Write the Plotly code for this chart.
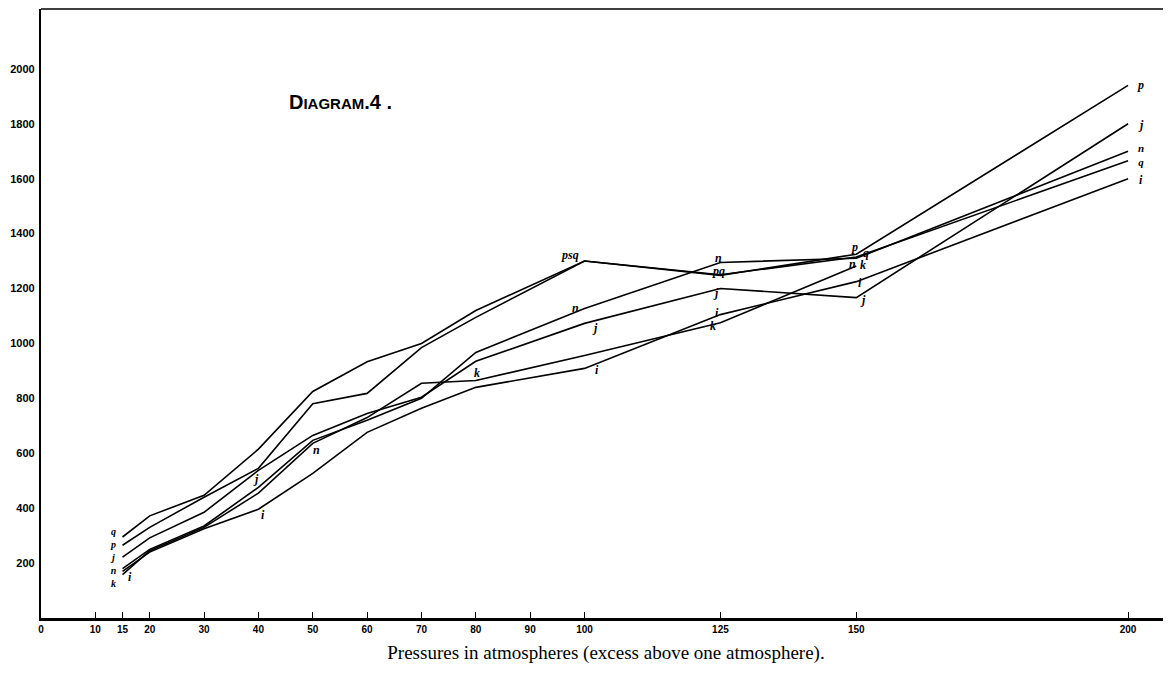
import plotly.graph_objects as go

# Pressures (atmospheres, excess above one atmosphere)
pressures = [15, 20, 30, 40, 50, 60, 70, 80, 100, 125, 150, 200]

series_p = [265, 330, 440, 545, 780, 818, 985, 1095, 1300, 1248, 1325, 1940]
series_q = [295, 372, 447, 615, 825, 933, 1000, 1120, 1300, 1250, 1315, 1665]
series_j = [222, 292, 385, 538, 665, 745, 804, 935, 1073, 1200, 1167, 1800]
series_n = [180, 250, 335, 476, 647, 720, 800, 967, 1127, 1295, 1310, 1700]
series_k = [158, 245, 330, 455, 636, 730, 855, 865, 956, 1075, 1282, None]
series_i = [170, 240, 325, 396, 527, 676, 764, 840, 909, 1105, 1225, 1600]

series = {"p": series_p, "q": series_q, "j": series_j,
          "n": series_n, "k": series_k, "i": series_i}

x_ticks = [0, 10, 15, 20, 30, 40, 50, 60, 70, 80, 90, 100, 125, 150, 200]
y_ticks = [200, 400, 600, 800, 1000, 1200, 1400, 1600, 1800, 2000]

# curve letters placed beside the lines: (text, pressure, value, size)
label_text = ["q<br>p<br>j<br>n<br>k", "i",
              "j", "i", "n", "k",
              "psq", "n", "j", "i",
              "n", "pq", "j", "i", "k",
              "p", "q", "n", "k", "i", "j",
              "p", "j", "n<br>q", "i"]
label_x = [13.4, 16.3,
           39.5, 40.8, 50.7, 80.2,
           97.3, 98.3, 102.0, 102.3,
           124.6, 124.6, 124.2, 124.4, 123.6,
           149.7, 151.7, 149.3, 151.2, 150.7, 151.2,
           202.3, 202.3, 202.3, 202.3]
label_y = [220, 150,
           505, 376, 612, 892,
           1322, 1128, 1055, 902,
           1310, 1262, 1183, 1112, 1062,
           1350, 1330, 1288, 1284, 1220, 1160,
           1940, 1797, 1686, 1594]
label_size = [10, 12,
              12, 12, 12, 12,
              12, 12, 12, 12,
              12, 12, 12, 12, 12,
              12, 12, 12, 12, 12, 12,
              12, 12, 11, 12]

fig = go.Figure()
for name, vals in series.items():
    fig.add_trace(go.Scatter(
        x=pressures, y=vals, mode="lines", name=name,
        line=dict(color="black", width=1.6), connectgaps=False,
        showlegend=False, hoverinfo="skip"))

for t, x, y, s in zip(label_text, label_x, label_y, label_size):
    fig.add_annotation(x=x, y=y, text=t, showarrow=False,
                       font=dict(family="Liberation Serif", size=s,
                                 color="black", style="italic", weight="bold"))

fig.add_annotation(x=45.2, y=1878, xanchor="left",
                   text="D<span style='font-size:15px'>IAGRAM</span>.4 .",
                   showarrow=False,
                   font=dict(family="Liberation Sans", size=20, color="black",
                             weight="bold"))

fig.update_xaxes(
    range=[0, 207.9], tickvals=x_ticks, ticktext=[str(v) for v in x_ticks],
    ticks="inside", ticklen=6, tickwidth=1.2, tickcolor="black",
    showline=True, linecolor="black", linewidth=2.5, mirror=False,
    showgrid=False, zeroline=False,
    tickfont=dict(family="Liberation Sans", size=10, color="black", weight="bold"),
    title=dict(text="Pressures in atmospheres (excess above one atmosphere).",
               font=dict(family="Liberation Serif", size=19, color="black"),
               standoff=12))

fig.update_yaxes(
    range=[0, 2218], tickvals=y_ticks, ticktext=[str(v) for v in y_ticks],
    ticks="", showline=True, linecolor="black", linewidth=2.2,
    showgrid=False, zeroline=False, ticklabelstandoff=2,
    tickfont=dict(family="Liberation Sans", size=11, color="black", weight="bold"))

# top border of the frame
fig.add_shape(type="line", xref="paper", yref="paper", x0=0, x1=1, y0=1, y1=1,
              line=dict(color="black", width=1.5))

fig.update_layout(
    width=1163, height=667,
    margin=dict(l=33, r=0, t=1, b=57),
    paper_bgcolor="white", plot_bgcolor="white")

fig.write_html("out.html")
